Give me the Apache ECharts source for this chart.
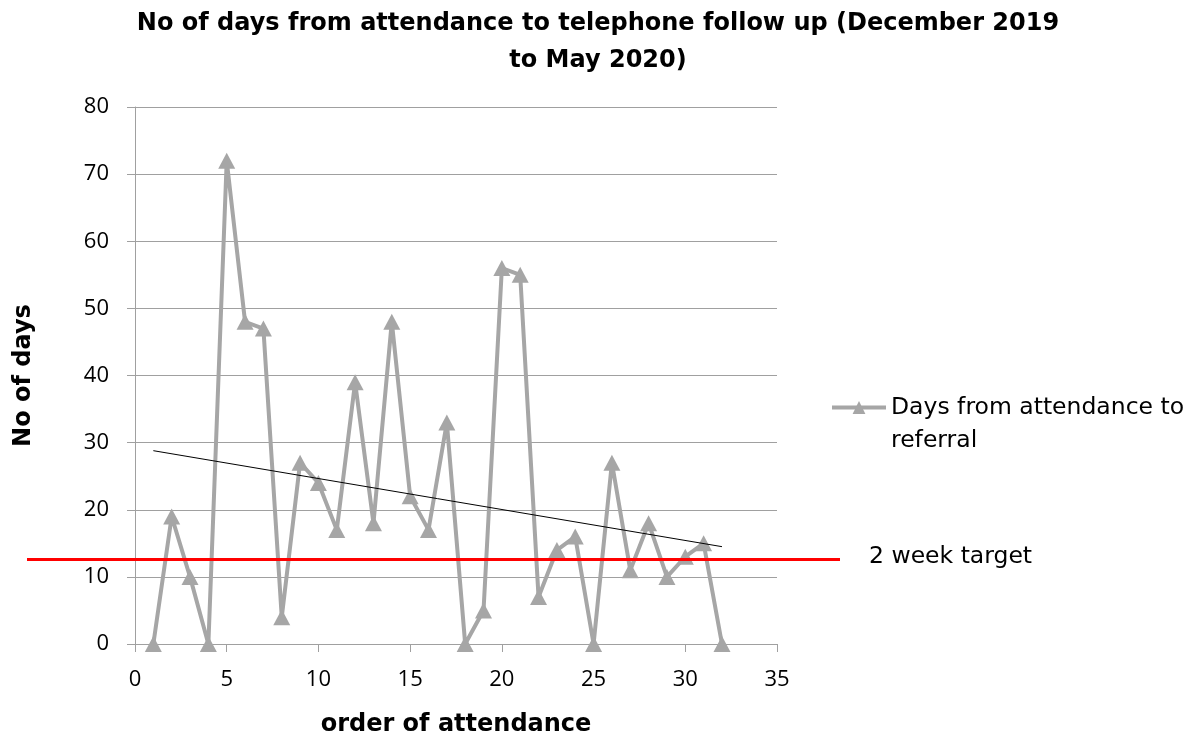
<!DOCTYPE html>
<html>
<head>
<meta charset="utf-8">
<script src="https://cdn.jsdelivr.net/npm/echarts@6/dist/echarts.min.js"></script>
<style>html,body{margin:0;padding:0;background:#fff;}#c{width:1193px;height:733px;}</style>
</head>
<body>
<div id="c"></div>
<script>
const order = [1,2,3,4,5,6,7,8,9,10,11,12,13,14,15,16,17,18,19,20,21,22,23,24,25,26,27,28,29,30,31,32];
const days = [0,19,10,0,72,48,47,4,27,24,17,39,18,48,22,17,33,0,5,56,55,7,14,16,0,27,11,18,10,13,15,0];
const trendX = [1,32];
const trendY = [28.8,14.5];
const targetValue = 12.6;
const xTicks = [0,5,10,15,20,25,30,35];
const yTicks = [0,10,20,30,40,50,60,70,80];

const chart = echarts.init(document.getElementById('c'));
const tickFont = {fontFamily:'Open Sans', fontSize:22, color:'#000'};
const boldFont = {fontFamily:'DejaVu Sans', fontWeight:'bold', color:'#000'};
chart.setOption({
  animation:false,
  title:{
    text:'No of days from attendance to telephone follow up (December 2019\nto May 2020)',
    left:593, textAlign:'center', top:0,
    textStyle:Object.assign({fontSize:24, lineHeight:37}, boldFont)
  },
  legend:{
    data:['Days from attendance to referral'],
    left:825, top:353, orient:'vertical',
    itemWidth:54, itemHeight:16,
    lineStyle:{width:4},
    formatter:()=> ' \nDays from attendance to\nreferral',
    textStyle:{fontFamily:'DejaVu Sans', fontSize:23.5, color:'#000', lineHeight:33}
  },
  grid:[
    {left:135, right:416, top:107, bottom:89, outerBoundsMode:'none'},
    {left:27, right:353, top:107, bottom:89, outerBoundsMode:'none'}
  ],
  xAxis:[
    {type:'value', gridIndex:0, min:0, max:35, interval:5,
     name:'order of attendance', nameLocation:'middle', nameGap:69,
     nameTextStyle:Object.assign({fontSize:24}, boldFont),
     axisLine:{lineStyle:{color:'#a0a0a0', width:1}},
     axisTick:{show:true, length:8, lineStyle:{color:'#a0a0a0'}},
     axisLabel:Object.assign({margin:25, formatter:v=> xTicks.includes(v)? String(v):''}, tickFont),
     splitLine:{show:false}},
    {type:'value', gridIndex:1, min:0, max:1, show:false}
  ],
  yAxis:[
    {type:'value', gridIndex:0, min:0, max:80, interval:10,
     name:'No of days', nameLocation:'middle', nameGap:99, nameRotate:90,
     nameTextStyle:Object.assign({fontSize:24}, boldFont),
     axisLine:{show:true, lineStyle:{color:'#a0a0a0', width:1}},
     axisTick:{show:true, length:8, lineStyle:{color:'#a0a0a0'}},
     axisLabel:Object.assign({margin:26, formatter:v=> yTicks.includes(v)? String(v):''}, tickFont),
     splitLine:{show:true, lineStyle:{color:'#a0a0a0', width:1}}},
    {type:'value', gridIndex:1, min:0, max:80, show:false}
  ],
  series:[
    {name:'Days from attendance to referral', type:'line', xAxisIndex:0, yAxisIndex:0,
     data:order.map((x,i)=>[x,days[i]]),
     lineStyle:{color:'#a6a6a6', width:4},
     itemStyle:{color:'#a6a6a6'},
     symbol:'triangle', symbolSize:[17,16], showAllSymbol:true, z:3},
    {name:'Trend', type:'line', xAxisIndex:0, yAxisIndex:0,
     data:trendX.map((x,i)=>[x,trendY[i]]),
     lineStyle:{color:'#000', width:1}, symbol:'none', z:4},
    {name:'2 week target', type:'line', xAxisIndex:1, yAxisIndex:1,
     data:[[0,targetValue],[1,targetValue]],
     lineStyle:{color:'#ff0000', width:3}, symbol:'none', z:5,
     endLabel:{show:true, formatter:'2 week target', distance:29, offset:[0,-3],
       fontFamily:'DejaVu Sans', fontSize:23.5, color:'#000'}}
  ]
});
</script>
</body>
</html>
